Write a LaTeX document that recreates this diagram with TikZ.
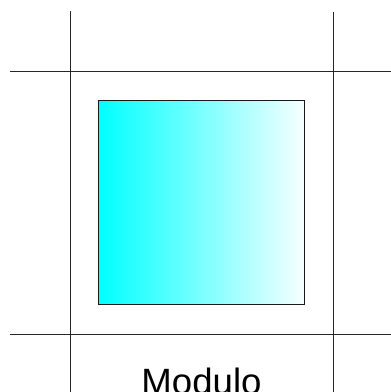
\documentclass[tikz,border=0pt]{standalone}
\usepackage{fontspec}
\setmainfont{Liberation Sans}
\definecolor{aqua}{RGB}{0,255,255}
\definecolor{paper}{RGB}{255,255,255}
\begin{document}
\begin{tikzpicture}[x=1pt,y=-1pt,
  gridline/.style={draw=black!85,line width=1pt},
  cellborder/.style={draw=black!90,line width=1pt}]
\useasboundingbox (0,0) rectangle (391,392);
\clip (0,0) rectangle (391,392);
\draw[gridline] (70,11) -- (70,392);
\draw[gridline] (333,12) -- (333,392);
\draw[gridline] (10,71) -- (391,71);
\draw[gridline] (10,334) -- (391,334);
\foreach \i in {0,...,99}{
  \pgfmathsetmacro{\pc}{100-\i*0.97}
  \fill[aqua!\pc!paper] ({98.5+\i*2.055},100) rectangle ({98.5+(\i+1)*2.055+0.3},304.5);
}
\draw[cellborder] (98.5,100) rectangle (304,304.5);
\node[draw=none,inner sep=0pt,anchor=base] (label) at (201.5,394.5) {\fontsize{36.6}{40}\selectfont Modulo};
\end{tikzpicture}
\end{document}
